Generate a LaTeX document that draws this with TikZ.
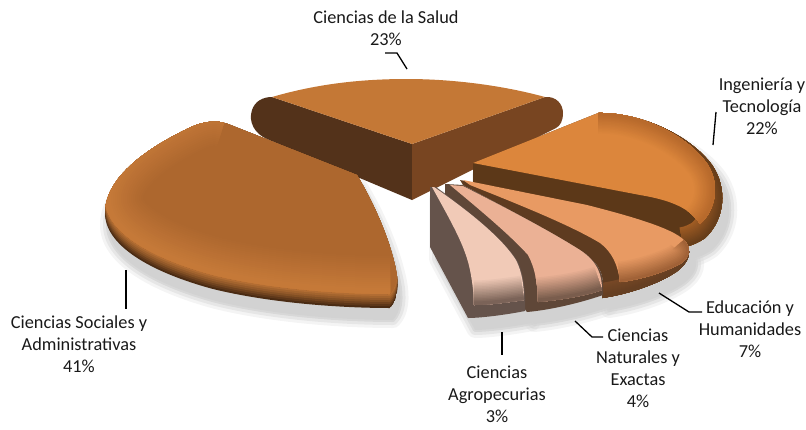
\documentclass[tikz,border=0pt]{standalone}
\usepackage{fontspec}
\setmainfont{Carlito}
\usepackage{tikz}

\definecolor{salTop}{HTML}{C47836}
\definecolor{salLeft}{HTML}{53321A}
\definecolor{salRight}{HTML}{784521}
\definecolor{socTop}{HTML}{AD672E}
\definecolor{socRim}{HTML}{C97C3A}
\definecolor{socDark}{HTML}{4A2B13}
\definecolor{ingTop}{HTML}{DC863C}
\definecolor{ingBevel}{HTML}{B4672A}
\definecolor{ingSide}{HTML}{A05C24}
\definecolor{ingWall}{HTML}{5C3818}
\definecolor{eduTop}{HTML}{E89A63}
\definecolor{eduBevel}{HTML}{9A5D33}
\definecolor{eduSide}{HTML}{774826}
\definecolor{eduWall}{HTML}{5E3B20}
\definecolor{natTop}{HTML}{EBB195}
\definecolor{natBevel}{HTML}{6E5445}
\definecolor{natWall}{HTML}{5F4738}
\definecolor{agrTop}{HTML}{F1CAB7}
\definecolor{agrBevel}{HTML}{6E584D}
\definecolor{agrWall}{HTML}{65534B}
\definecolor{shadowc}{HTML}{D2D2D2}

% Ciencias de la Salud
\newcommand{\salLeftPath}{(272,97) -- (412,144) -- (412,200) -- (267,139) .. controls (255,134) and (248,122) .. (252,110) .. controls (255,101) and (263,97) .. (272,97) -- cycle}
\newcommand{\salRightPath}{(412,144) -- (545,97) .. controls (556,96) and (563,104) .. (563,113) .. controls (563,121) and (560,126) .. (556,128) -- (412,200) -- cycle}
\newcommand{\salTopPath}{(272,97) .. controls (320,83) and (365,79) .. (407,79) .. controls (455,79) and (505,86) .. (545,97) -- (412,144) -- cycle}
% Ciencias Sociales y Administrativas
\newcommand{\socPath}{(357,175) -- (228,124) .. controls (215,119) and (200,122) .. (185,130) .. controls (140,152) and (106,180) .. (105,212) .. controls (104,245) and (150,272) .. (213,289) .. controls (270,303) and (340,308) .. (390,308) .. controls (398,300) and (399,285) .. (396,270) .. controls (390,240) and (375,205) .. (357,175) -- cycle}
\newcommand{\socOuter}{(228,124) .. controls (215,119) and (200,122) .. (185,130) .. controls (140,152) and (106,180) .. (105,212) .. controls (104,245) and (150,272) .. (213,289) .. controls (270,303) and (340,308) .. (390,308)}
% Ingenieria y Tecnologia
\newcommand{\ingPath}{(473,163) -- (598,113) .. controls (640,112) and (690,135) .. (712,165) .. controls (728,188) and (725,220) .. (705,238) .. controls (698,243) and (690,246) .. (684,247) -- (473,185) -- cycle}
\newcommand{\ingOuter}{(598,113) .. controls (640,112) and (690,135) .. (712,165) .. controls (728,188) and (725,220) .. (705,238) .. controls (698,243) and (690,246) .. (684,247)}
\newcommand{\ingTopPath}{(473,163) -- (598,113) .. controls (640,112) and (688,135) .. (708,165) .. controls (720,185) and (716,210) .. (700,224) .. controls (690,208) and (670,200) .. (640,195) -- cycle}
\newcommand{\ingTopArc}{(598,113) .. controls (640,112) and (688,135) .. (708,165) .. controls (720,185) and (716,210) .. (700,224)}
% Educacion y Humanidades
\newcommand{\eduPath}{(460,180) -- (587,205) .. controls (630,216) and (670,228) .. (684,240) .. controls (693,250) and (690,262) .. (676,272) .. controls (660,283) and (630,294) .. (602,298) -- (603,285) .. controls (603,272) and (598,262) .. (580,250) .. controls (545,228) and (500,205) .. (463,185) -- cycle}
\newcommand{\eduOuter}{(684,240) .. controls (693,250) and (690,262) .. (676,272) .. controls (660,283) and (630,294) .. (602,298)}
\newcommand{\eduTopPath}{(463,180) -- (587,205) .. controls (630,216) and (672,228) .. (684,240) .. controls (692,248) and (690,258) .. (680,264) .. controls (665,272) and (640,280) .. (620,282) .. controls (618,265) and (612,252) .. (600,243) .. controls (570,225) and (520,205) .. (470,185) -- cycle}
\newcommand{\eduTopArc}{(684,240) .. controls (692,248) and (690,258) .. (680,264) .. controls (665,272) and (640,280) .. (620,282)}
% Ciencias Naturales y Exactas
\newcommand{\natPath}{(445,184) -- (463,185) .. controls (500,205) and (545,228) .. (580,250) .. controls (598,262) and (603,272) .. (603,285) -- (603,295) .. controls (580,303) and (550,310) .. (527,312) -- (445,205) -- cycle}
\newcommand{\natTopPath}{(450,185) -- (463,186) .. controls (500,205) and (545,228) .. (580,250) .. controls (598,262) and (602,275) .. (602,290) .. controls (585,296) and (560,300) .. (538,302) .. controls (538,285) and (535,268) .. (528,255) .. controls (510,235) and (480,210) .. (450,185) -- cycle}
\newcommand{\natTopArc}{(602,290) .. controls (585,296) and (560,300) .. (538,302)}
% Ciencias Agropecurias
\newcommand{\agrPath}{(430,187) -- (430,247) -- (468,318) .. controls (480,318) and (505,315) .. (525,311) .. controls (526,295) and (524,275) .. (518,262) .. controls (505,240) and (470,212) .. (436,187) -- cycle}
\newcommand{\agrTopPath}{(432,187) .. controls (450,220) and (465,245) .. (470,270) .. controls (473,285) and (474,298) .. (474,305) .. controls (490,305) and (510,302) .. (524,300) .. controls (524,285) and (522,272) .. (516,260) .. controls (502,238) and (470,212) .. (434,187) -- cycle}
\newcommand{\agrTopArc}{(474,305) .. controls (490,305) and (510,302) .. (524,300)}

\begin{document}
\begin{tikzpicture}[x=1pt,y=-1pt,
  lbl/.style={font=\fontsize{18.3}{22}\selectfont, align=center, text=black!90, inner sep=0pt, anchor=north},
  leader/.style={draw=black, line width=1.3pt},
  blur/.style={shadowc, line join=round}]
\useasboundingbox (0,0) rectangle (806,429);

% shadows
\begin{scope}[shift={(3,12)}]
  \foreach \w/\o in {16/0.25,10/0.4,4/0.7}
    \draw[blur, line width=\w pt, opacity=\o] \socPath;
  \fill[shadowc] \socPath;
\end{scope}
\begin{scope}[shift={(7,12)}]
  \foreach \w/\o in {16/0.25,10/0.4,4/0.7} {
    \draw[blur, line width=\w pt, opacity=\o] \ingPath;
    \draw[blur, line width=\w pt, opacity=\o] \eduPath;
    \draw[blur, line width=\w pt, opacity=\o] \natPath;
    \draw[blur, line width=\w pt, opacity=\o] \agrPath;
  }
  \fill[shadowc] \ingPath; \fill[shadowc] \eduPath;
  \fill[shadowc] \natPath; \fill[shadowc] \agrPath;
\end{scope}

% Ciencias de la Salud
\fill[salLeft] \salLeftPath;
\fill[salRight] \salRightPath;
\fill[salTop] \salTopPath;

% Ciencias Sociales y Administrativas
\begin{scope}
  \clip \socPath;
  \foreach \d/\p in {0/100,2/85,4/70,6/55,8/42,10/30,12/18}
    \fill[socDark!\p!socRim, yshift=\d pt] \socPath;
  \begin{scope}[yshift=14pt]
    \clip \socPath;
    \fill[socTop] \socPath;
    \foreach \i [evaluate=\i as \w using 80-4*\i, evaluate=\i as \p using int(5*\i)] in {0,...,17}
      \draw[line width=\w pt, socRim!\p!socTop] \socOuter;
  \end{scope}
\end{scope}

% Ingenieria y Tecnologia
\fill[ingWall] \ingPath;
\begin{scope}
  \clip \ingPath;
  \foreach \i [evaluate=\i as \w using 40-3*\i, evaluate=\i as \p using int(7*\i)] in {0,...,12}
    \draw[line width=\w pt, ingWall!\p!ingSide] \ingOuter;
\end{scope}
\fill[ingTop] \ingTopPath;
\begin{scope}
  \clip \ingTopPath;
  \foreach \i [evaluate=\i as \w using 44-3*\i, evaluate=\i as \p using int(7*\i)] in {0,...,13}
    \draw[line width=\w pt, ingBevel!\p!ingTop] \ingTopArc;
\end{scope}

% Educacion y Humanidades
\fill[eduWall] \eduPath;
\begin{scope}
  \clip \eduPath;
  \foreach \i [evaluate=\i as \w using 30-2*\i, evaluate=\i as \p using int(6*\i)] in {0,...,12}
    \draw[line width=\w pt, eduWall!\p!eduSide] \eduOuter;
\end{scope}
\fill[eduTop] \eduTopPath;
\begin{scope}
  \clip \eduTopPath;
  \foreach \i [evaluate=\i as \w using 44-3*\i, evaluate=\i as \p using int(7*\i)] in {0,...,13}
    \draw[line width=\w pt, eduBevel!\p!eduTop] \eduTopArc;
\end{scope}

% Ciencias Naturales y Exactas
\fill[natWall] \natPath;
\fill[natTop] \natTopPath;
\begin{scope}
  \clip \natTopPath;
  \foreach \i [evaluate=\i as \w using 52-3*\i, evaluate=\i as \p using int(6*\i)] in {0,...,15}
    \draw[line width=\w pt, natBevel!\p!natTop] \natTopArc;
\end{scope}

% Ciencias Agropecurias
\fill[agrWall] \agrPath;
\fill[agrTop] \agrTopPath;
\begin{scope}
  \clip \agrTopPath;
  \foreach \i [evaluate=\i as \w using 52-3*\i, evaluate=\i as \p using int(6*\i)] in {0,...,15}
    \draw[line width=\w pt, agrBevel!\p!agrTop] \agrTopArc;
\end{scope}

% labels
\node[lbl] (lblSalud) at (386,11) {Ciencias de la Salud\\23\%};
\node[lbl] (lblIng) at (762,78) {Ingeniería y\\Tecnología\\22\%};
\node[lbl] (lblEdu) at (750,301) {Educación y\\Humanidades\\7\%};
\node[lbl] (lblNat) at (638,329) {Ciencias\\Naturales y\\Exactas\\4\%};
\node[lbl] (lblAgro) at (497,366) {Ciencias\\Agropecurias\\3\%};
\node[lbl] (lblSoc) at (79,316) {Ciencias Sociales y\\Administrativas\\41\%};

% leader lines
\coordinate (pSalud) at (407,69);  \coordinate (kSalud) at (397,53);  \coordinate (qSalud) at (385,53);
\coordinate (pIng) at (713,145);   \coordinate (qIng) at (716,112);
\coordinate (pEdu) at (659,293);   \coordinate (kEdu) at (689,312);   \coordinate (qEdu) at (702,312);
\coordinate (pNat) at (575,321);   \coordinate (kNat) at (592,337);   \coordinate (qNat) at (603,337);
\coordinate (pAgro) at (502,332);  \coordinate (qAgro) at (502,355);
\coordinate (pSoc) at (126,270);   \coordinate (qSoc) at (126,309);
\draw[leader] (pSalud) -- (kSalud) -- (qSalud);
\draw[leader] (pIng) -- (qIng);
\draw[leader] (pEdu) -- (kEdu) -- (qEdu);
\draw[leader] (pNat) -- (kNat) -- (qNat);
\draw[leader] (pAgro) -- (qAgro);
\draw[leader] (pSoc) -- (qSoc);
\end{tikzpicture}
\end{document}
